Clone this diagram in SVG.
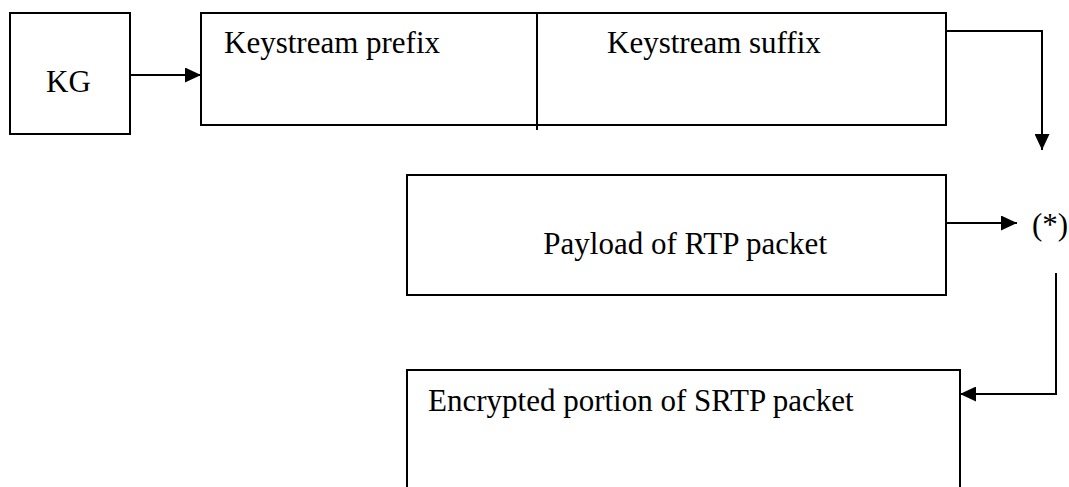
<svg xmlns="http://www.w3.org/2000/svg" width="1069" height="487" viewBox="0 0 1069 487">
  <style>
    .box { fill: #fff; stroke: #000; stroke-width: 2; }
    .wire { fill: none; stroke: #000; stroke-width: 2; }
    .lbl { font-family: "Liberation Serif", "Times New Roman", serif; font-size: 31px; fill: #000; }
  </style>
  <defs>
    <marker id="arrow" markerUnits="userSpaceOnUse" markerWidth="16" markerHeight="15" refX="16" refY="7.5" orient="auto">
      <path d="M0,0 L16,7.5 L0,15 Z" fill="#000"/>
    </marker>
  </defs>

  <rect width="1069" height="487" fill="#fff"/>

  <!-- key generator -->
  <g id="kg">
    <rect class="box" x="10" y="13" width="120" height="121"/>
    <text class="lbl" x="46" y="92">KG</text>
  </g>

  <!-- keystream split into prefix and suffix -->
  <g id="keystream">
    <rect class="box" x="201" y="13" width="745" height="112"/>
    <line class="wire" x1="537" y1="13" x2="537" y2="130"/>
    <text class="lbl" x="224" y="53">Keystream prefix</text>
    <text class="lbl" x="607" y="53">Keystream suffix</text>
  </g>

  <!-- plaintext payload -->
  <g id="payload">
    <rect class="box" x="407" y="175" width="539" height="120"/>
    <text class="lbl" x="827" y="254" text-anchor="end">Payload of RTP packet</text>
  </g>

  <!-- combining operation -->
  <g id="op">
    <text class="lbl" x="1032" y="235">(*)</text>
  </g>

  <!-- ciphertext, open at the bottom edge -->
  <g id="encrypted">
    <path class="wire" d="M407,490 V370 H960 V490"/>
    <text class="lbl" x="428" y="411">Encrypted portion of SRTP packet</text>
  </g>

  <g id="connectors">
    <path class="wire" d="M130,75 H201" marker-end="url(#arrow)"/>
    <path class="wire" d="M946,31 H1042 V150" marker-end="url(#arrow)"/>
    <path class="wire" d="M946,223 H1017" marker-end="url(#arrow)"/>
    <path class="wire" d="M1056,273 V394 H960" marker-end="url(#arrow)"/>
  </g>
</svg>
